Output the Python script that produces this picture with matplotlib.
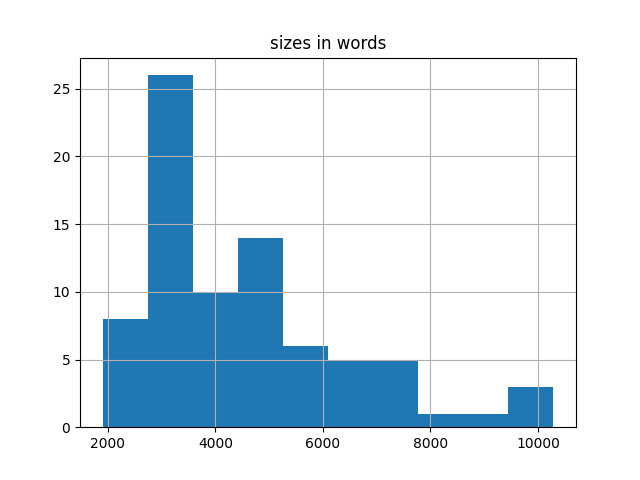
import numpy as np
import matplotlib
matplotlib.use("Agg")
import matplotlib.pyplot as plt

# histogram: 10 bins
bin_edges = np.linspace(1900, 10287, 11)
counts = [8, 26, 10, 14, 6, 5, 5, 1, 1, 3]

centers = (bin_edges[:-1] + bin_edges[1:]) / 2

fig, ax = plt.subplots(figsize=(6.4, 4.8), dpi=100)
ax.hist(centers, bins=bin_edges, weights=counts, color="#1f77b4")
ax.set_title("sizes in words")
ax.grid(True)
fig.savefig("out.png")
